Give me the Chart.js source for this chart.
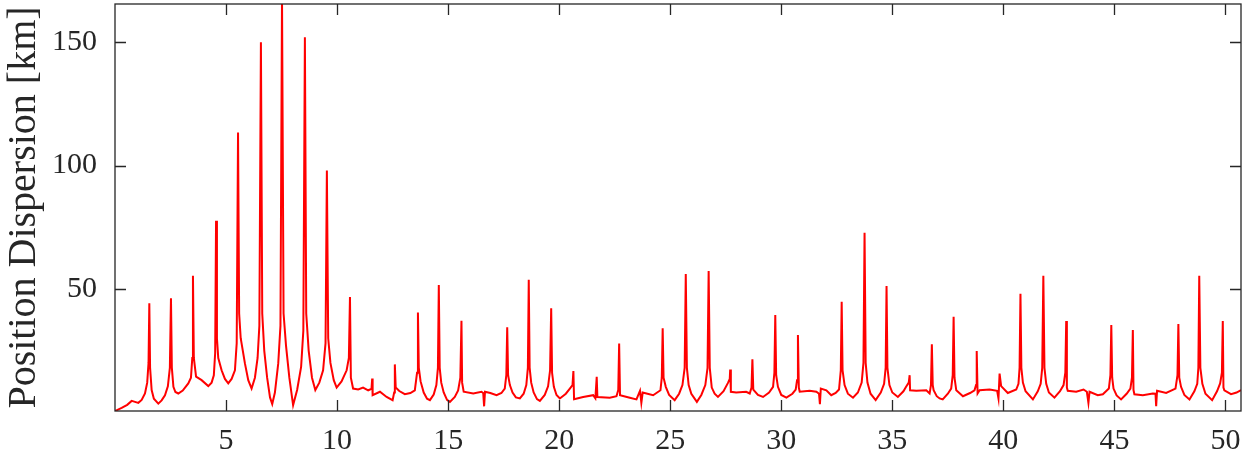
<!DOCTYPE html>
<html>
<head>
<meta charset="utf-8">
<script src="https://cdn.jsdelivr.net/npm/chart.js@4/dist/chart.umd.min.js"></script>
<style>
  html, body { margin: 0; padding: 0; background: #fff; }
  #wrap { width: 1246px; height: 453px; }
</style>
</head>
<body>
<div id="wrap"><canvas id="dispChart" width="1246" height="453"></canvas></div>
<script>
// values, one row per stretch of the curve
const time = [
  0.00, 0.30, 0.55, 0.75, 0.90, 1.05,
  1.20, 1.35, 1.45, 1.51, 1.545, 1.58, 1.65, 1.75, 1.95,
  2.10, 2.25, 2.38, 2.47, 2.52, 2.56, 2.63, 2.72, 2.85,
  3.05, 3.30, 3.42, 3.48, 3.51, 3.55, 3.65, 3.90, 4.20,
  4.35, 4.45, 4.51, 4.55, 4.59, 4.65, 4.80, 4.95, 5.10,
  5.25, 5.40, 5.48, 5.54, 5.59, 5.66, 5.85, 6.00, 6.15,
  6.30, 6.42, 6.50, 6.57, 6.63, 6.72, 6.85, 6.98, 7.08,
  7.20, 7.35, 7.45, 7.52, 7.59, 7.70, 7.85, 8.02,
  8.20, 8.38, 8.48, 8.55, 8.61, 8.72, 8.87, 9.02,
  9.20, 9.37, 9.48, 9.54, 9.60, 9.70, 9.85, 9.98,
  10.20, 10.43, 10.53, 10.58, 10.62, 10.72, 10.95,
  11.17, 11.40, 11.55, 11.58, 11.60, 11.93, 12.23, 12.50, 12.57, 12.60, 12.64, 12.80, 13.05, 13.30, 13.50,
  13.60, 13.64, 13.68, 13.76, 13.90, 14.05, 14.18, 14.35, 14.47, 14.54, 14.58, 14.62, 14.69, 14.80, 14.95, 15.08, 15.30, 15.45,
  15.55, 15.60, 15.63, 15.70, 16.13, 16.50, 16.58, 16.62, 16.66, 16.90, 17.18, 17.40, 17.55, 17.62, 17.66, 17.70, 17.78, 17.90, 18.05, 18.23,
  18.40, 18.52, 18.59, 18.63, 18.67, 18.74, 18.85, 19.00, 19.13, 19.35, 19.50, 19.59, 19.64, 19.68, 19.76, 19.88, 20.03, 20.30, 20.48,
  20.60, 20.64, 20.67, 21.08, 21.53, 21.63, 21.69, 21.72, 22.28, 22.58, 22.66, 22.70, 22.74, 23.18, 23.48, 23.64, 23.70, 23.76, 23.93, 24.23,
  24.56, 24.62, 24.66, 24.70, 24.80, 24.95, 25.20, 25.40, 25.55, 25.65, 25.70, 25.75, 25.83, 25.95, 26.20, 26.40, 26.58, 26.68, 26.73, 26.78, 26.87, 27.00, 27.15, 27.40,
  27.60, 27.68, 27.70, 27.73, 27.97, 28.42, 28.58, 28.66, 28.70, 28.74, 28.95, 29.18,
  29.45, 29.63, 29.69, 29.73, 29.77, 29.85, 30.00, 30.23, 30.50, 30.65, 30.71, 30.75, 30.79, 30.83, 31.28, 31.58, 31.70, 31.74, 31.78, 32.03, 32.25, 32.45,
  32.60, 32.68, 32.72, 32.76, 32.85, 33.00, 33.23, 33.45, 33.62, 33.70, 33.75, 33.80, 33.88, 34.02, 34.25, 34.48, 34.63, 34.70, 34.74, 34.78, 34.87, 35.00, 35.25, 35.50,
  35.62, 35.74, 35.78, 35.80, 36.08, 36.53, 36.68, 36.74, 36.78, 36.82, 36.86, 37.00, 37.13, 37.27, 37.50, 37.65, 37.72, 37.76, 37.80, 37.88, 38.18, 38.50,
  38.70, 38.77, 38.80, 38.84, 38.93, 39.38, 39.72, 39.78, 39.83, 39.90, 40.20, 40.58, 40.68,
  40.73, 40.77, 40.81, 40.88, 41.00, 41.33, 41.55, 41.68, 41.75, 41.80, 41.85, 41.93, 42.05, 42.30, 42.55, 42.71, 42.79, 42.83, 42.86, 42.90, 43.28, 43.61,
  43.76, 43.83, 43.88, 44.25, 44.48, 44.75, 44.82, 44.86, 44.90, 44.96, 45.10, 45.30, 45.55, 45.72, 45.79, 45.83, 45.86, 45.90, 46.28, 46.73, 46.85, 46.88,
  46.92, 47.33, 47.75, 47.84, 47.88, 47.92, 48.00, 48.15, 48.38, 48.60, 48.73, 48.78, 48.82, 48.87, 48.96, 49.10, 49.40, 49.62, 49.76, 49.84, 49.88, 49.91, 49.95, 50.25, 50.50, 50.70
];
const dispersion = [
  0.5, 1.8, 3.0, 4.6, 4.2, 3.8,
  5.0, 7.6, 12, 20, 44.2, 18, 9, 5.5, 3.5,
  4.8, 6.9, 10.5, 18, 46.2, 18, 10.3, 8.2, 7.6,
  8.8, 11.7, 14, 22, 55.3, 22, 14.4, 13, 10.6,
  12, 15, 24, 77.6, 30, 22, 17, 13.5, 11.7,
  13.5, 17, 28, 113.4, 40, 30, 19.8, 13, 9.6,
  14, 22, 35, 150, 40, 25, 14, 6, 3.3,
  8, 19.8, 35, 168, 40, 27, 14, 2.9,
  9, 18.4, 33, 152, 40, 25, 14, 9,
  12, 17, 28, 98, 30, 20, 13, 10,
  12.5, 17, 22, 46.7, 14, 9.6, 9.2,
  10, 8.9, 9.5, 13.7, 6.9, 8.3, 6.2, 4.9, 8, 19.4, 10, 8.6, 7.3, 7.8, 8.9,
  16, 40.4, 18, 12.5, 8, 5.5, 4.9, 7.2, 11, 18, 51.6, 18, 12, 8, 5, 4.2, 6.2, 8.8,
  14, 37.1, 12, 8.3, 7.6, 8.3, 7.8, 2.4, 8.3, 7.8, 6.9, 7.8, 9.6, 15, 34.4, 15, 11, 8, 6, 5.6,
  7.5, 11, 18, 53.7, 18, 12, 8, 5.3, 4.6, 7, 10.5, 17, 42.1, 16, 10.3, 7, 5.6, 7.5, 9.6,
  11, 16.7, 5.3, 6.2, 6.9, 5.6, 14.4, 6.2, 5.9, 6.5, 9, 27.9, 6.9, 5.9, 5.2, 8.7, 3.8, 8, 7.6, 6.9,
  8.9, 14, 34, 14, 10.3, 7, 4.9, 7.5, 11, 18, 56, 18, 11, 7.5, 4.2, 7, 11, 18, 57.3, 18, 10, 7.5, 6.2, 8.5,
  11.9, 13.5, 17.3, 8.3, 8, 8.3, 7.6, 10, 21.5, 9.2, 7, 6.2,
  8, 10.3, 16, 39.4, 15, 10.3, 7, 5.9, 7.5, 9.2, 13, 31.3, 10, 8.3, 8.7, 8.3, 7.5, 3.3, 9.6, 8.9, 6.9, 7.8,
  9.2, 17, 44.8, 17, 11, 7.5, 5.9, 8, 12, 20, 72.8, 20, 12, 7.5, 4.9, 8, 11.5, 18, 51.2, 18, 11, 8, 6.2, 8.5,
  10.3, 12, 15, 8.9, 8.7, 8.9, 7.6, 11, 27.6, 11, 8.9, 6.5, 5.6, 5.2, 7.5, 9.6, 15, 38.7, 14, 8.9, 6.5, 7.8,
  8.9, 11, 24.8, 7.6, 8.9, 9.2, 8.7, 5.6, 15.7, 10.6, 7.8, 9.2, 11.5,
  18, 48, 18, 12, 8.5, 5.2, 8.5, 11.5, 18, 55.3, 18, 11.5, 8, 5.9, 8.5, 11, 16, 37, 10, 8.7, 8.3, 9.2,
  8.3, 3.8, 8.3, 6.9, 7.3, 9.6, 15, 35.4, 14, 9.6, 6.8, 5.2, 7.5, 9.6, 14, 33.3, 9, 7.3, 6.9, 7.6, 7.5, 2.4,
  8.7, 7.8, 9.6, 15, 35.8, 14, 10.3, 7, 5.2, 8.5, 11.5, 18, 55.3, 18, 11.5, 7.5, 4.9, 8.5, 11.7, 16, 37, 10, 8.9, 7.3, 8, 9
];
const xTicks = [5, 10, 15, 20, 25, 30, 35, 40, 45, 50];
const yTicks = [50, 100, 150];

const axisColor = '#262626';
const serif = "'Liberation Serif', 'DejaVu Serif', serif";

// MATLAB-style box with inward ticks on all four sides
const boxPlugin = {
  id: 'boxTicks',
  afterDraw(chart) {
    const { ctx, chartArea: a, scales } = chart;
    ctx.save();
    ctx.strokeStyle = axisColor;
    ctx.lineWidth = 1.3;
    ctx.strokeRect(a.left, a.top, a.right - a.left, a.bottom - a.top);
    const len = 11;
    ctx.beginPath();
    xTicks.forEach(v => {
      const px = Math.round(scales.x.getPixelForValue(v)) + 0.5;
      ctx.moveTo(px, a.bottom); ctx.lineTo(px, a.bottom - len);
      ctx.moveTo(px, a.top); ctx.lineTo(px, a.top + len);
    });
    yTicks.forEach(v => {
      const py = Math.round(scales.y.getPixelForValue(v)) + 0.5;
      ctx.moveTo(a.left, py); ctx.lineTo(a.left + len, py);
      ctx.moveTo(a.right, py); ctx.lineTo(a.right - len, py);
    });
    ctx.stroke();
    ctx.restore();
  }
};

new Chart(document.getElementById('dispChart'), {
  type: 'line',
  data: {
    datasets: [{
      data: time.map((t, i) => ({ x: t, y: dispersion[i] })),
      borderColor: '#ff0000',
      borderWidth: 2,
      pointRadius: 0,
      tension: 0,
      fill: false
    }]
  },
  options: {
    responsive: false,
    animation: false,
    layout: { padding: { top: 4, right: 5, left: 0, bottom: 0 } },
    plugins: { legend: { display: false }, tooltip: { enabled: false } },
    scales: {
      x: {
        type: 'linear',
        min: 0,
        max: 50.7,
        afterBuildTicks: s => { s.ticks = xTicks.map(v => ({ value: v })); },
        afterFit: s => { s.height = 42; s.paddingLeft = 0; s.paddingRight = 0; },
        grid: { display: false },
        border: { display: false },
        ticks: {
          color: axisColor,
          padding: 4,
          maxRotation: 0,
          font: { family: serif, size: 30 }
        }
      },
      y: {
        type: 'linear',
        min: 0.5,
        max: 165.5,
        afterBuildTicks: s => { s.ticks = yTicks.map(v => ({ value: v })); },
        afterFit: s => { s.width = 115; s.paddingTop = 0; s.paddingBottom = 0; },
        grid: { display: false },
        border: { display: false },
        title: {
          display: true,
          text: 'Position Dispersion [km]',
          color: axisColor,
          padding: { top: 0, bottom: 0 },
          font: { family: serif, size: 40 }
        },
        ticks: {
          color: axisColor,
          padding: 10,
          font: { family: serif, size: 30 }
        }
      }
    }
  },
  plugins: [boxPlugin]
});
</script>
</body>
</html>
